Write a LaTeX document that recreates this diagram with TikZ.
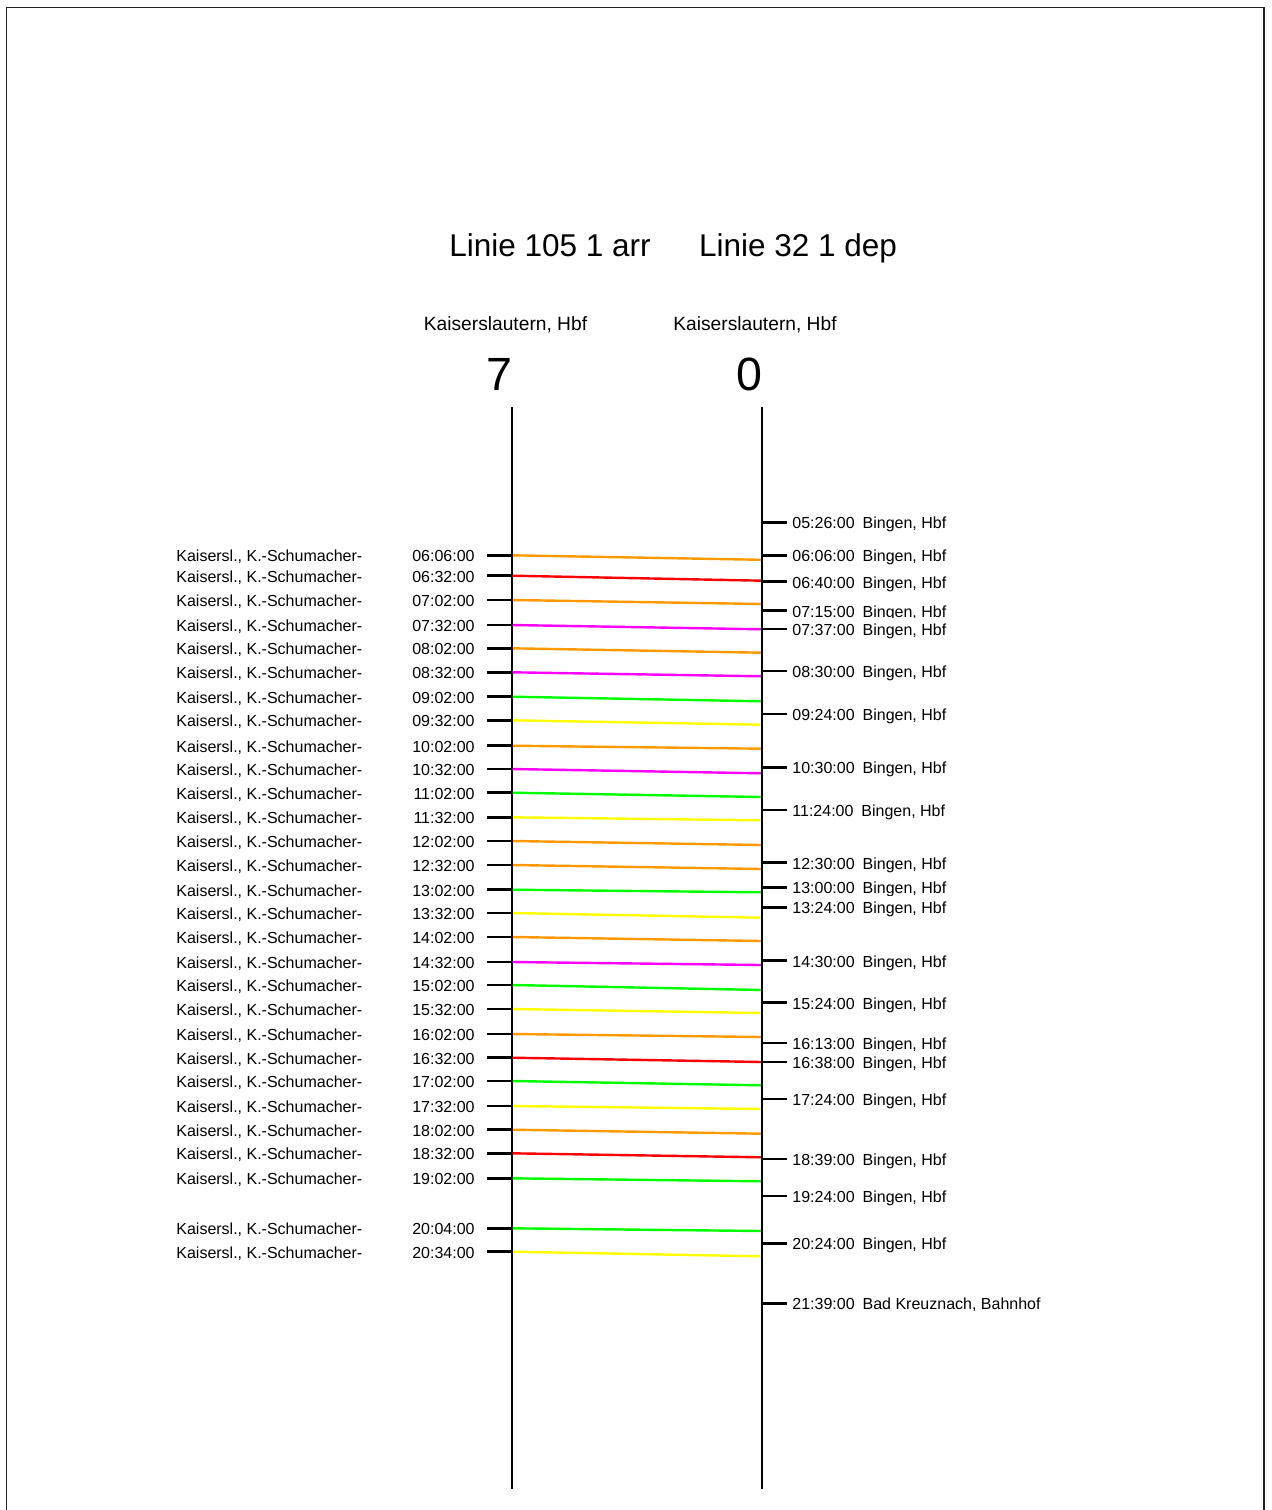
\documentclass[tikz,border=0pt]{standalone}
\usepackage{fontspec}
\setmainfont{Liberation Sans}
\definecolor{corange}{RGB}{255,153,0}
\definecolor{cred}{RGB}{255,0,0}
\definecolor{cmag}{RGB}{255,0,255}
\definecolor{cgreen}{RGB}{0,255,0}
\definecolor{cyellow}{RGB}{255,255,0}
\definecolor{frame}{RGB}{34,34,34}
\begin{document}
\begin{tikzpicture}[x=0.5pt,y=-0.5pt,
  axisline/.style={line width=1.4pt,black},
  tickline/.style={line width=1.4pt,black},
  conn/.style={line width=1.2pt},
  small/.style={font=\fontsize{8}{9.6}\selectfont,inner sep=0pt},
  rlabel/.style={small,fill=white,text height=9pt,text depth=2pt,anchor=base west},
  title/.style={font=\fontsize{15.75}{18}\selectfont,inner sep=0pt,anchor=base},
  station/.style={font=\fontsize{9.6}{11.5}\selectfont,inner sep=0pt,anchor=base},
  bignum/.style={font=\fontsize{23.3}{28}\selectfont,inner sep=0pt,anchor=base}]
\useasboundingbox (0,0) rectangle (1271,1510);
% frame
\coordinate (fbl) at (6.5,1515);
\coordinate (ftl) at (6.5,7.5);
\coordinate (ftr) at (1264,7.5);
\coordinate (fbr) at (1264,1515);
\draw[line width=0.75pt,frame] (fbl) -- (ftl) -- (ftr) -- (fbr);
% titles
\node[title] (t1) at (550,256) {Linie 105 1 arr};
\node[title] (t2) at (798,256) {Linie 32 1 dep};
\node[station] (s1) at (505.5,330) {Kaiserslautern, Hbf};
\node[station] (s2) at (755,330) {Kaiserslautern, Hbf};
\node[bignum] (n1) at (499.5,390) {7};
\node[bignum] (n2) at (749.3,390) {0};
% axes
\coordinate (LAtop) at (512,407);
\coordinate (LAbot) at (512,1489);
\coordinate (RAtop) at (762,407);
\coordinate (RAbot) at (762,1489);
% arrivals and connectors
\foreach \ii/\yy/\dd/\tm/\col in {
  1/555.3/4.5/06:06:00/corange,
  2/575.7/5/06:32:00/cred,
  3/600/4/07:02:00/corange,
  4/625/4.3/07:32:00/cmag,
  5/648.3/4.4/08:02:00/corange,
  6/672.3/4/08:32:00/cmag,
  7/696.7/4.6/09:02:00/cgreen,
  8/720.3/4.4/09:32:00/cyellow,
  9/745.7/3/10:02:00/corange,
  10/769/4.3/10:32:00/cmag,
  11/792.7/4.3/11:02:00/cgreen,
  12/817.3/3/11:32:00/cyellow,
  13/841/4/12:02:00/corange,
  14/865/4/12:32:00/corange,
  15/889.7/2.6/13:02:00/cgreen,
  16/913/4.7/13:32:00/cyellow,
  17/937/4/14:02:00/corange,
  18/962/3/14:32:00/cmag,
  19/985/5/15:02:00/cgreen,
  20/1009/4/15:32:00/cyellow,
  21/1034/3/16:02:00/corange,
  22/1057.7/4.3/16:32:00/cred,
  23/1081/4.3/17:02:00/cgreen,
  24/1106/3/17:32:00/cyellow,
  25/1129.7/4/18:02:00/corange,
  26/1153.3/4/18:32:00/cred,
  27/1178.3/3/19:02:00/cgreen,
  28/1228.3/2.7/20:04:00/cgreen,
  29/1251.7/4.6/20:34:00/cyellow}{
  \coordinate (L\ii) at (512,\yy);
  \coordinate (Lt\ii) at (487,\yy);
  \coordinate (R\ii) at (762,\yy+\dd);
  \draw[conn,\col] (L\ii) -- (R\ii);
  \draw[tickline] (Lt\ii) -- (L\ii);
  \node[small,anchor=base west] (ls\ii) at (176,\yy+6.5) {Kaisersl., K.-Schumacher-};
  \node[small,anchor=base east] (lt\ii) at (475,\yy+6.5) {\tm};
}
\draw[axisline] (LAtop) -- (LAbot);
\draw[axisline] (RAtop) -- (RAbot);
% departures
\foreach \ii/\yy/\tm/\st in {
  1/522.3/05:26:00/{Bingen, Hbf},
  2/555.3/06:06:00/{Bingen, Hbf},
  3/581.7/06:40:00/{Bingen, Hbf},
  4/610.7/07:15:00/{Bingen, Hbf},
  5/629/07:37:00/{Bingen, Hbf},
  6/671/08:30:00/{Bingen, Hbf},
  7/714/09:24:00/{Bingen, Hbf},
  8/767.3/10:30:00/{Bingen, Hbf},
  9/810/11:24:00/{Bingen, Hbf},
  10/862.5/12:30:00/{Bingen, Hbf},
  11/887.3/13:00:00/{Bingen, Hbf},
  12/907.3/13:24:00/{Bingen, Hbf},
  13/960.7/14:30:00/{Bingen, Hbf},
  14/1002.7/15:24:00/{Bingen, Hbf},
  15/1043/16:13:00/{Bingen, Hbf},
  16/1062/16:38:00/{Bingen, Hbf},
  17/1099/17:24:00/{Bingen, Hbf},
  18/1159/18:39:00/{Bingen, Hbf},
  19/1196/19:24:00/{Bingen, Hbf},
  20/1243.3/20:24:00/{Bingen, Hbf},
  21/1303.3/21:39:00/{Bad Kreuznach, Bahnhof}}{
  \coordinate (D\ii) at (762,\yy);
  \coordinate (Dt\ii) at (787,\yy);
  \draw[tickline] (D\ii) -- (Dt\ii);
  \node[rlabel] (dl\ii) at (792,\yy+6.5) {\tm\hspace{4pt}\st};
}
\end{tikzpicture}
\end{document}
